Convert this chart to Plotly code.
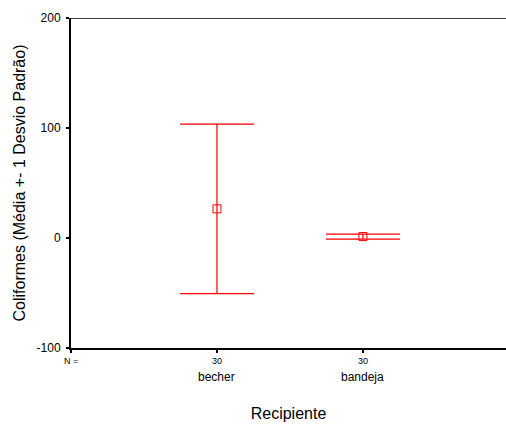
import plotly.graph_objects as go

categories = ["becher", "bandeja"]
cat_pos = [1, 2]
n_values = ["30", "30"]
means = [26.5, 1.3]
sds = [77.0, 2.3]
y_ticks = [-100, 0, 100, 200]
y_tick_labels = ["-100", "0", "100", "200"]

fig = go.Figure()
fig.add_trace(go.Scatter(
    x=cat_pos, y=means, mode="markers",
    marker=dict(symbol="square-open", size=8, color="#ff0000", line=dict(width=1)),
    error_y=dict(type="data", array=sds, visible=True, color="#ff0000", thickness=1.2, width=37),
    showlegend=False, hoverinfo="skip"))

fig.update_layout(
    width=506, height=426,
    margin=dict(l=71, r=0, t=18, b=78),
    paper_bgcolor="white", plot_bgcolor="white",
    font=dict(family="Liberation Sans, Arial, sans-serif", color="black"),
    xaxis=dict(range=[0, 2.98], tickmode="array", tickvals=[0] + cat_pos,
               ticktext=["N ="] + n_values, tickfont=dict(size=9, color="black"),
               ticks="outside", ticklen=3, tickwidth=2, tickcolor="black",
               showline=True, linecolor="black", linewidth=2,
               showgrid=False, zeroline=False,
               title=dict(text="Recipiente", font=dict(size=16, color="black"), standoff=43)),
    yaxis=dict(range=[-100, 200], tickmode="array", tickvals=y_ticks, ticktext=y_tick_labels,
               tickfont=dict(size=12, color="black"),
               ticks="outside", ticklen=3, tickwidth=2, tickcolor="black",
               ticklabelstandoff=3,
               showline=True, linecolor="black", linewidth=2,
               showgrid=False, zeroline=False,
               title=dict(text="Coliformes (Média +- 1 Desvio Padrão)", font=dict(size=16, color="black"), standoff=7)),
)
fig.add_shape(type="line", xref="paper", yref="y", x0=0, x1=1, y0=200, y1=200,
              line=dict(color="black", width=1.5))
for c, p in zip(categories, cat_pos):
    fig.add_annotation(x=p, y=0, xref="x", yref="paper", yshift=-38, text=c,
                       showarrow=False, font=dict(size=12, color="black"))
fig.write_html("out.html")
